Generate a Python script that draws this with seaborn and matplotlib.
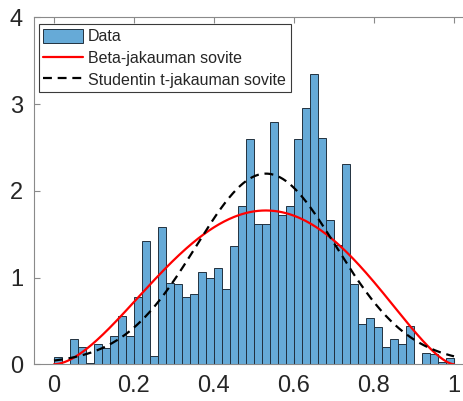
import math
import numpy as np
import pandas as pd
import matplotlib
matplotlib.use("Agg")
import matplotlib.pyplot as plt
import seaborn as sns

# Histogram bins (width 0.02 on [0, 1]) and their normalised heights
n_bins = 50
bin_range = (0.0, 1.0)
bin_heights = [
    0.084, 0.0, 0.29, 0.196, 0.02, 0.23, 0.19, 0.33, 0.56, 0.33,
    0.78, 1.425, 0.096, 1.58, 0.94, 0.92, 0.78, 0.81, 1.06, 0.99,
    1.107, 0.87, 1.364, 1.83, 2.60, 1.62, 1.62, 2.79, 1.72, 1.82,
    2.60, 2.95, 3.35, 2.61, 1.66, 1.37, 2.31, 0.926, 0.46, 0.53,
    0.43, 0.20, 0.29, 0.23, 0.445, 0.0, 0.13, 0.115, 0.03, 0.077,
]

# Fitted distribution parameters
beta_a, beta_b = 2.8, 2.6
t_mu, t_sigma, t_nu = 0.53, 0.18, 30.0

labels = ["Data", "Beta-jakauman sovite", "Studentin t-jakauman sovite"]
x_ticks = [0, 0.2, 0.4, 0.6, 0.8, 1]
y_ticks = [0, 1, 2, 3, 4]

x_grid = np.linspace(0.0, 1.0, 401)


def beta_pdf(x, a, b):
    norm = math.gamma(a + b) / (math.gamma(a) * math.gamma(b))
    return norm * x ** (a - 1) * (1 - x) ** (b - 1)


def t_pdf(x, mu, s, nu):
    z = (x - mu) / s
    c = math.gamma((nu + 1) / 2) / (math.gamma(nu / 2) * math.sqrt(nu * math.pi) * s)
    return c * (1 + z ** 2 / nu) ** (-(nu + 1) / 2)


edges = np.linspace(bin_range[0], bin_range[1], n_bins + 1)
centers = 0.5 * (edges[:-1] + edges[1:])
hist_df = pd.DataFrame({"x": centers, "w": bin_heights})
curve_df = pd.DataFrame({
    "x": x_grid,
    "beta": beta_pdf(x_grid, beta_a, beta_b),
    "t": t_pdf(x_grid, t_mu, t_sigma, t_nu),
})

sns.set_style("white")
plt.rcParams["font.family"] = ["Liberation Sans", "DejaVu Sans"]

W, H = 463, 401
fig = plt.figure(figsize=(W / 100, H / 100), dpi=100)
ax_left, ax_bottom = 34.0, 401 - 364.3
ax_w, ax_h = 440.0, 347.0
ax = fig.add_axes([ax_left / W, ax_bottom / H, ax_w / W, ax_h / H])

sns.histplot(
    data=hist_df, x="x", weights="w", bins=n_bins, binrange=bin_range,
    stat="count", color=(0.0, 0.447, 0.741), alpha=0.6, edgecolor="#22313f",
    linewidth=0.7, ax=ax, label=labels[0],
)
sns.lineplot(data=curve_df, x="x", y="beta", color="#ff0000",
             linewidth=1.6, ax=ax, label=labels[1])
sns.lineplot(data=curve_df, x="x", y="t", color="black",
             linewidth=1.6, ax=ax, label=labels[2])
ax.lines[-1].set_dashes([4, 2.6])

ax.set_xlim(-0.05, 1.05)
ax.set_ylim(0, 4)
ax.set_xticks(x_ticks)
ax.set_xticklabels([f"{v:g}" for v in x_ticks])
ax.set_yticks(y_ticks)
ax.set_xlabel("")
ax.set_ylabel("")

for side in ["left", "right", "top", "bottom"]:
    ax.spines[side].set_visible(True)
    ax.spines[side].set_color("#8a8a8a")
    ax.spines[side].set_linewidth(0.8)

ax.tick_params(axis="both", which="both", direction="in", length=4,
               width=0.8, color="#8a8a8a", labelsize=17, labelcolor="#262626",
               top=True, right=True, bottom=True, left=True)
ax.tick_params(axis="x", pad=8)
ax.tick_params(axis="y", pad=8)

handles, names = ax.get_legend_handles_labels()
order = [names.index(lbl) for lbl in labels]
leg = ax.legend(
    [handles[i] for i in order], [names[i] for i in order],
    loc="upper left",
    bbox_to_anchor=(39 / W, 1 - 24.3 / H),
    bbox_transform=fig.transFigure,
    borderaxespad=0.0,
    fontsize=11.5,
    frameon=True,
    fancybox=False,
    framealpha=1.0,
    edgecolor="#3a3a3a",
    handlelength=2.5,
    handleheight=1.0,
    handletextpad=0.3,
    labelspacing=0.38,
    borderpad=0.28,
)
leg.get_frame().set_linewidth(0.8)

fig.savefig("out.png", dpi=100)
